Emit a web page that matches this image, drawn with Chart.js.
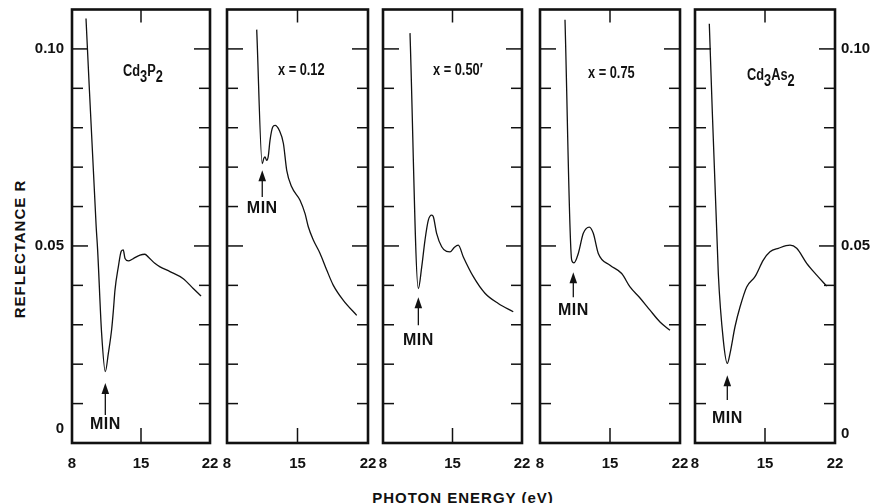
<!DOCTYPE html>
<html>
<head>
<meta charset="utf-8">
<script src="https://cdn.jsdelivr.net/npm/chart.js@4.4.1/dist/chart.umd.min.js"></script>
<style>
  body { margin: 0; background: #fff; }
  #wrap { position: relative; width: 871px; height: 503px; overflow: hidden; }
  #wrap canvas { position: absolute; top: 0; }
  .axisTitle {
    position: absolute; white-space: nowrap; color: #111;
    font: bold 15px "Liberation Sans", Arial, sans-serif;
  }
  #yTitle { left: 19px; top: 249px; letter-spacing: 1px; transform: translate(-50%, -50%) rotate(-90deg); }
  #xTitle { left: 463px; top: 497px; letter-spacing: 1px; transform: translate(-50%, -50%); }
</style>
</head>
<body>
<div id="wrap">
  <div class="axisTitle" id="yTitle">REFLECTANCE R</div>
  <div class="axisTitle" id="xTitle">PHOTON ENERGY (eV)</div>
</div>
<script>
// photon energy (eV) and reflectance
const energyCd3P2 = [9.42, 10.45, 10.6, 11.0, 11.38, 11.69, 12.03, 12.2, 12.36, 12.7, 13.0, 13.2, 13.38, 13.71, 14.22, 14.9, 15.4, 15.74, 16.4, 16.93, 17.94, 19.29, 20.3, 21.09];
const reflCd3P2   = [0.1077, 0.055, 0.049, 0.028, 0.0181, 0.0228, 0.029, 0.0337, 0.0388, 0.0447, 0.0487, 0.0490, 0.0468, 0.0462, 0.0468, 0.0477, 0.0479, 0.0472, 0.0456, 0.0447, 0.0435, 0.0417, 0.0392, 0.0373];

const energyX012 = [10.95, 11.5, 11.65, 11.77, 11.94, 12.1, 12.27, 12.54, 12.77, 13.2, 13.6, 13.93, 14.42, 15.25, 15.75, 16.08, 16.57, 17.24, 17.9, 18.56, 19.55, 20.88];
const reflX012   = [0.1049, 0.0709, 0.0722, 0.0726, 0.0717, 0.0728, 0.0768, 0.0802, 0.0806, 0.0793, 0.076, 0.0692, 0.065, 0.0616, 0.0582, 0.0548, 0.0515, 0.0481, 0.0439, 0.04, 0.0362, 0.0324];

const energyX050 = [10.72, 11.56, 11.9, 12.23, 12.56, 12.9, 13.07, 13.4, 13.91, 14.4, 14.75, 15.2, 15.58, 16.09, 17.1, 18.27, 19.61, 21.12];
const reflX050   = [0.104, 0.0392, 0.0447, 0.0515, 0.0565, 0.0578, 0.0574, 0.0532, 0.0498, 0.0486, 0.0485, 0.0497, 0.0502, 0.0472, 0.0422, 0.038, 0.0354, 0.0333];

const energyX075 = [10.5, 11.17, 11.4, 11.83, 12.33, 12.93, 13.33, 13.83, 15.0, 16.17, 17.0, 18.0, 19.0, 20.0, 21.0];
const reflX075   = [0.1074, 0.0464, 0.0457, 0.0481, 0.0532, 0.0548, 0.0532, 0.0481, 0.0451, 0.043, 0.0396, 0.0368, 0.0337, 0.0307, 0.0286];

const energyCd3As2 = [9.43, 10.33, 10.83, 11.23, 11.5, 12.0, 12.5, 13.17, 14.0, 14.83, 15.5, 16.33, 17.5, 18.17, 19.17, 20.17, 21.17];
const reflCd3As2   = [0.1064, 0.043, 0.0261, 0.0202, 0.0227, 0.0295, 0.0345, 0.0396, 0.0422, 0.0464, 0.0485, 0.0494, 0.0502, 0.0494, 0.0456, 0.0426, 0.0398];

const xTickValues = [8, 15, 22];
const yLabelValues = [0, 0.05, 0.10];

// panel captions: [text, isSubscript]
const captions = [
  [['Cd', 0], ['3', 1], ['P', 0], ['2', 1]],
  [['x = 0.12', 0]],
  [['x = 0.50\u2032', 0]],
  [['x = 0.75', 0]],
  [['Cd', 0], ['3', 1], ['As', 0], ['2', 1]]
];
const captionE = [13.17, 13.06, 13.04, 12.8, 13.2];
const captionR = [0.093, 0.0933, 0.0933, 0.0925, 0.092];

// "MIN" arrows
const minE     = [11.38, 11.5, 11.56, 11.33, 11.23];
const minTipR  = [0.0152, 0.0692, 0.037, 0.0433, 0.0172];
const minTailR = [0.0071, 0.0624, 0.0299, 0.037, 0.0109];
const minTextR = [0.0046, 0.0596, 0.0261, 0.0335, 0.0063];

const series = [
  [energyCd3P2, reflCd3P2],
  [energyX012, reflX012],
  [energyX050, reflX050],
  [energyX075, reflX075],
  [energyCd3As2, reflCd3As2]
];

// layout of the five frames
const panelLeft  = [72, 227, 383, 540, 695];
const panelWidth = [138, 141, 139, 140, 140];
const yAxisWidth = [72, 0, 0, 0, 36];
const PLOT_TOP = 9.5, PLOT_BOTTOM = 443, H = 503;

const FONT = '"Liberation Sans", Arial, sans-serif';
Chart.defaults.font.family = FONT;
Chart.defaults.font.weight = 'bold';
Chart.defaults.color = '#111';

function isLabelled(v) {
  return yLabelValues.some(l => Math.abs(l - v) < 1e-6);
}

function line(ctx, x1, y1, x2, y2) {
  ctx.beginPath();
  ctx.moveTo(x1, y1);
  ctx.lineTo(x2, y2);
  ctx.stroke();
}

const framePlugin = {
  id: 'frame',
  afterDatasetsDraw(chart, args, opts) {
    const ctx = chart.ctx;
    const a = chart.chartArea;
    const x = chart.scales.x, y = chart.scales.y;
    const i = opts.panel;
    ctx.save();
    ctx.strokeStyle = '#111';
    ctx.fillStyle = '#111';
    ctx.lineWidth = 1.5;
    y.ticks.forEach(t => {
      if (t.value < 0.005 || t.value > 0.105) return;
      const py = y.getPixelForValue(t.value);
      const len = isLabelled(t.value) ? 16 : 11;
      line(ctx, a.left, py, a.left + len, py);
      line(ctx, a.right, py, a.right - len, py);
    });
    x.ticks.forEach(t => {
      if (t.value <= 8 || t.value >= 22) return;
      const px = x.getPixelForValue(t.value);
      line(ctx, px, a.top, px, a.top + 13);
      line(ctx, px, a.bottom, px, a.bottom - 15);
    });
    ctx.lineWidth = 2.6;
    ctx.strokeRect(a.left, a.top, a.right - a.left, a.bottom - a.top);

    // caption, squeezed a little to look like the condensed original
    const sx = 0.8;
    ctx.font = 'bold 16px ' + FONT;
    ctx.textBaseline = 'alphabetic';
    ctx.textAlign = 'left';
    const cx = x.getPixelForValue(captionE[i]);
    const cy = y.getPixelForValue(captionR[i]);
    ctx.save();
    ctx.translate(cx, cy);
    ctx.scale(sx, 1);
    let off = 0;
    captions[i].forEach(([txt, sub]) => {
      ctx.fillText(txt, off, sub ? 6 : 0);
      off += ctx.measureText(txt).width;
    });
    ctx.restore();

    // MIN arrow
    const ax = x.getPixelForValue(minE[i]);
    const tip = y.getPixelForValue(minTipR[i]);
    const tail = y.getPixelForValue(minTailR[i]);
    ctx.lineWidth = 1.3;
    line(ctx, ax, tail, ax, tip + 6);
    ctx.beginPath();
    ctx.moveTo(ax, tip);
    ctx.lineTo(ax - 3.8, tip + 11);
    ctx.lineTo(ax + 3.8, tip + 11);
    ctx.closePath();
    ctx.fill();
    ctx.font = 'bold 16px ' + FONT;
    ctx.textAlign = 'center';
    ctx.textBaseline = 'middle';
    if ('letterSpacing' in ctx) ctx.letterSpacing = '0.5px';
    ctx.fillText('MIN', ax, y.getPixelForValue(minTextR[i]));
    ctx.restore();
  }
};

const wrap = document.getElementById('wrap');

series.forEach(([energy, refl], i) => {
  const padLeft = i === 0 ? 0 : 12;
  const padRight = i === 4 ? 0 : 12;
  const leftSpace = (i === 4 ? 0 : yAxisWidth[i]) + padLeft;
  const rightSpace = (i === 4 ? yAxisWidth[i] : 0) + padRight;
  const w = leftSpace + panelWidth[i] + rightSpace;

  const canvas = document.createElement('canvas');
  canvas.width = w;
  canvas.height = H;
  canvas.style.left = (panelLeft[i] - leftSpace) + 'px';
  canvas.style.width = w + 'px';
  canvas.style.height = H + 'px';
  wrap.appendChild(canvas);

  const showY = i === 0 || i === 4;

  new Chart(canvas, {
    type: 'line',
    data: {
      datasets: [{
        data: energy.map((e, k) => ({ x: e, y: refl[k] })),
        borderColor: '#111',
        borderWidth: 1.3,
        pointRadius: 0,
        cubicInterpolationMode: 'monotone',
        fill: false
      }]
    },
    options: {
      responsive: false,
      animation: false,
      events: [],
      layout: { padding: { left: padLeft, right: padRight, top: PLOT_TOP, bottom: 0 } },
      plugins: {
        legend: { display: false },
        tooltip: { enabled: false },
        frame: { panel: i }
      },
      scales: {
        x: {
          type: 'linear',
          min: 8, max: 22,
          afterBuildTicks: s => { s.ticks = xTickValues.map(v => ({ value: v })); },
          afterFit: s => {
            s.height = H - PLOT_BOTTOM;
            s.paddingLeft = 0; s.paddingRight = 0;
          },
          grid: { display: false },
          border: { display: false },
          ticks: {
            padding: 4,
            maxRotation: 0,
            font: { size: 15, weight: 'bold' },
            callback: v => String(v)
          }
        },
        y: {
          type: 'linear',
          position: i === 4 ? 'right' : 'left',
          min: 0, max: 0.11,
          afterFit: s => {
            s.width = yAxisWidth[i];
            s.paddingTop = 0; s.paddingBottom = 0;
          },
          grid: { display: false, drawTicks: false },
          border: { display: false },
          ticks: {
            display: showY,
            stepSize: 0.01,
            padding: i === 4 ? 6 : 8,
            autoSkip: false,
            font: { size: 15, weight: 'bold', lineHeight: i === 0 ? 1.9 : 1.2 },
            callback: v => {
              if (!isLabelled(v)) return '';
              if (Math.abs(v) < 1e-6) return ['0', ''];
              return v.toFixed(2);
            }
          }
        }
      }
    },
    plugins: [framePlugin]
  });
});
</script>
</body>
</html>
